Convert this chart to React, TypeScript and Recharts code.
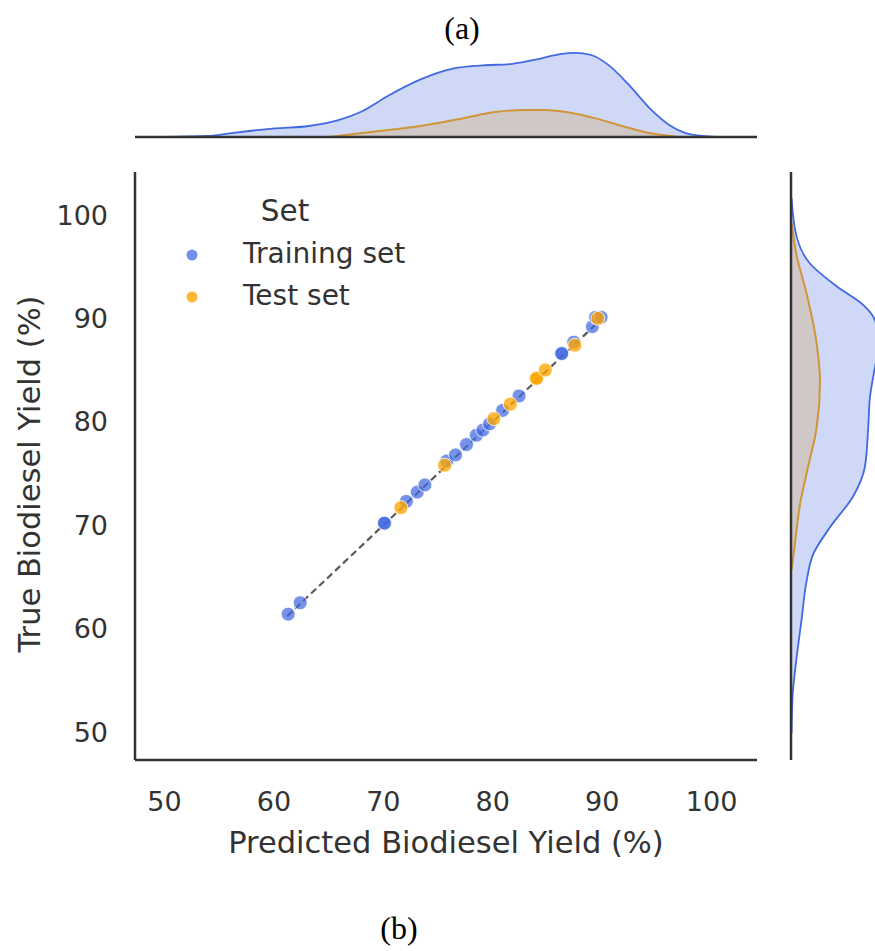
import React from 'react';
import { ScatterChart, Scatter, XAxis, YAxis, ReferenceLine, AreaChart, Area } from 'recharts';

// ---- axis settings ----
const AXIS_MIN = 47.3;
const AXIS_MAX = 104.15;
const axisTicks = [50, 60, 70, 80, 90, 100];

// ---- scatter data (predicted vs true biodiesel yield, %) ----
const trainPred = [61.3, 62.4, 70.1, 70.1, 72.1, 73.1, 73.8, 75.8, 76.6, 77.6, 78.5, 79.1, 79.7, 80.9, 82.4, 86.3, 86.3, 87.4, 89.1, 89.4, 89.9];
const trainTrue = [61.4, 62.5, 70.2, 70.2, 72.3, 73.2, 73.9, 76.2, 76.8, 77.8, 78.7, 79.2, 79.8, 81.1, 82.5, 86.6, 86.6, 87.7, 89.2, 90.1, 90.1];
const testPred = [71.6, 75.6, 80.1, 81.6, 84.0, 84.0, 84.8, 87.5, 89.6];
const testTrue = [71.7, 75.8, 80.3, 81.7, 84.2, 84.2, 85.0, 87.4, 90.0];

// ---- marginal KDE of predicted yield (top) ----
const topTrainX = [50.0, 54.0, 56.3, 60.1, 63.2, 65.8, 68.1, 70.4, 73.4, 76.45, 79.1, 81.8, 84.0, 86.3, 87.5, 89.0, 90.5, 92.4, 94.3, 96.2, 98.1, 100.0, 101.5];
const topTrainD = [0, 0.0005, 0.0021, 0.0043, 0.0055, 0.0083, 0.013, 0.0205, 0.0288, 0.0343, 0.0358, 0.0366, 0.0388, 0.0416, 0.0421, 0.041, 0.0363, 0.0263, 0.0146, 0.0058, 0.0013, 0.0002, 0];
const topTestX = [65.0, 69.6, 73.4, 77.2, 80.2, 82.9, 84.8, 87.1, 89.4, 92.4, 94.7, 97.0];
const topTestD = [0, 0.003, 0.0055, 0.0093, 0.0125, 0.0135, 0.0135, 0.0121, 0.0093, 0.0046, 0.0016, 0];

// ---- marginal KDE of true yield (right) ----
const rightTrainY = [49.9, 53.5, 57.2, 60.9, 64.6, 67.2, 69.8, 72.8, 75.7, 79.4, 82.4, 85.3, 87.5, 89.8, 91.3, 93.1, 95.3, 97.9, 101.6];
const rightTrainD = [0.0003, 0.0008, 0.0028, 0.0053, 0.0078, 0.0111, 0.0195, 0.0311, 0.037, 0.0386, 0.0395, 0.042, 0.044, 0.042, 0.0361, 0.0228, 0.0095, 0.0028, 0.0003];
const rightTestY = [65.7, 68.3, 72.0, 75.7, 79.4, 83.9, 87.6, 92.4, 96.1, 99.2];
const rightTestD = [0.0003, 0.002, 0.0045, 0.0086, 0.0128, 0.0145, 0.0128, 0.0078, 0.0028, 0.0003];

const DENS_MAX = 0.045;

const trainData = trainPred.map((x, i) => ({ x, y: trainTrue[i] }));
const testData = testPred.map((x, i) => ({ x, y: testTrue[i] }));
const topTrain = topTrainX.map((x, i) => ({ x, d: topTrainD[i] }));
const topTest = topTestX.map((x, i) => ({ x, d: topTestD[i] }));
const rightTrain = rightTrainY.map((y, i) => ({ y, d: rightTrainD[i] }));
const rightTest = rightTestY.map((y, i) => ({ y, d: rightTestD[i] }));

const BLUE = '#4169E1';
const ORANGE = '#FFA500';
const TEXT = '#333333';
const FONT = 'DejaVu Sans';

const makeDot = (color: string, op: number) => (props: any) => (
  <circle cx={props.cx} cy={props.cy} r={7} fill={color} fillOpacity={op} stroke="#ffffff" strokeOpacity={0.8} strokeWidth={1} />
);

export default function App() {
  return (
    <div style={{ position: 'absolute', left: 0, top: 0, width: 875, height: 951, overflow: 'hidden', background: '#fff' }}>
      {/* top marginal */}
      <div style={{ position: 'absolute', left: 0, top: 41 }}>
        <AreaChart width={780} height={100} margin={{ top: 6, right: 23, bottom: 4, left: 135 }}>
          <XAxis type="number" dataKey="x" domain={[AXIS_MIN, AXIS_MAX]} allowDataOverflow hide />
          <YAxis type="number" domain={[0, DENS_MAX]} allowDataOverflow hide />
          <Area data={topTest} dataKey="d" type="monotone" stroke={ORANGE} strokeWidth={2} fill={ORANGE} fillOpacity={0.25} isAnimationActive={false} dot={false} activeDot={false} />
          <Area data={topTrain} dataKey="d" type="monotone" stroke={BLUE} strokeWidth={1.8} fill={BLUE} fillOpacity={0.25} isAnimationActive={false} dot={false} activeDot={false} />
          <ReferenceLine y={0} stroke={TEXT} strokeWidth={2.5} />
        </AreaChart>
      </div>

      {/* main scatter */}
      <div style={{ position: 'absolute', left: 0, top: 160 }}>
        <ScatterChart width={780} height={720} margin={{ top: 12, right: 23, bottom: 0, left: 0 }}>
          <XAxis
            type="number"
            dataKey="x"
            domain={[AXIS_MIN, AXIS_MAX]}
            allowDataOverflow
            ticks={axisTicks}
            height={120}
            tickLine={false}
            tickSize={0}
            tickMargin={32}
            axisLine={{ stroke: TEXT, strokeWidth: 2.5 }}
            tick={{ fontSize: 27, fill: TEXT, fontFamily: FONT }}
          />
          <YAxis
            type="number"
            dataKey="y"
            domain={[AXIS_MIN, AXIS_MAX]}
            allowDataOverflow
            ticks={axisTicks}
            width={135}
            tickLine={false}
            tickSize={0}
            tickMargin={27}
            axisLine={{ stroke: TEXT, strokeWidth: 2.5 }}
            tick={{ fontSize: 27, fill: TEXT, fontFamily: FONT }}
          />
          <Scatter name="Training set" data={trainData} shape={makeDot(BLUE, 0.72)} isAnimationActive={false} />
          <Scatter name="Test set" data={testData} shape={makeDot(ORANGE, 0.78)} isAnimationActive={false} />
          <ReferenceLine
            segment={[{ x: 61.2, y: 61.2 }, { x: 90, y: 90 }]}
            stroke="#5a5a5a"
            strokeWidth={2.2}
            strokeDasharray="7 4"
          />
        </ScatterChart>
      </div>

      {/* right marginal */}
      <div style={{ position: 'absolute', left: 760, top: 160 }}>
        <AreaChart layout="vertical" width={126} height={610} margin={{ top: 12, right: 5, bottom: 10, left: 31 }}>
          <XAxis type="number" domain={[0, DENS_MAX]} allowDataOverflow hide />
          <YAxis type="number" dataKey="y" domain={[AXIS_MIN, AXIS_MAX]} allowDataOverflow reversed hide />
          <Area data={rightTest} dataKey="d" type="monotone" stroke={ORANGE} strokeWidth={2} fill={ORANGE} fillOpacity={0.25} isAnimationActive={false} dot={false} activeDot={false} />
          <Area data={rightTrain} dataKey="d" type="monotone" stroke={BLUE} strokeWidth={1.8} fill={BLUE} fillOpacity={0.25} isAnimationActive={false} dot={false} activeDot={false} />
          <ReferenceLine x={0} stroke={TEXT} strokeWidth={2.5} />
        </AreaChart>
      </div>

      {/* text overlay */}
      <svg width={875} height={951} style={{ position: 'absolute', left: 0, top: 0, pointerEvents: 'none' }}>
        <text x={462} y={39} textAnchor="middle" fontFamily="Liberation Serif" fontSize={32} fill="#000">(a)</text>
        <text x={399} y={939} textAnchor="middle" fontFamily="Liberation Serif" fontSize={32} fill="#000">(b)</text>
        <text x={446} y={853} textAnchor="middle" fontFamily={FONT} fontSize={30.5} fill={TEXT}>Predicted Biodiesel Yield (%)</text>
        <text x={0} y={0} transform="translate(40,474) rotate(-90)" textAnchor="middle" fontFamily={FONT} fontSize={30.5} fill={TEXT}>True Biodiesel Yield (%)</text>
        {/* legend */}
        <text x={285} y={221} textAnchor="middle" fontFamily={FONT} fontSize={29.5} fill={TEXT}>Set</text>
        <circle cx={192} cy={255} r={5.5} fill={BLUE} fillOpacity={0.75} />
        <text x={243} y={263} fontFamily={FONT} fontSize={28} fill={TEXT}>Training set</text>
        <circle cx={192} cy={297} r={5.5} fill={ORANGE} fillOpacity={0.8} />
        <text x={243} y={305} fontFamily={FONT} fontSize={28} fill={TEXT}>Test set</text>
      </svg>
    </div>
  );
}
